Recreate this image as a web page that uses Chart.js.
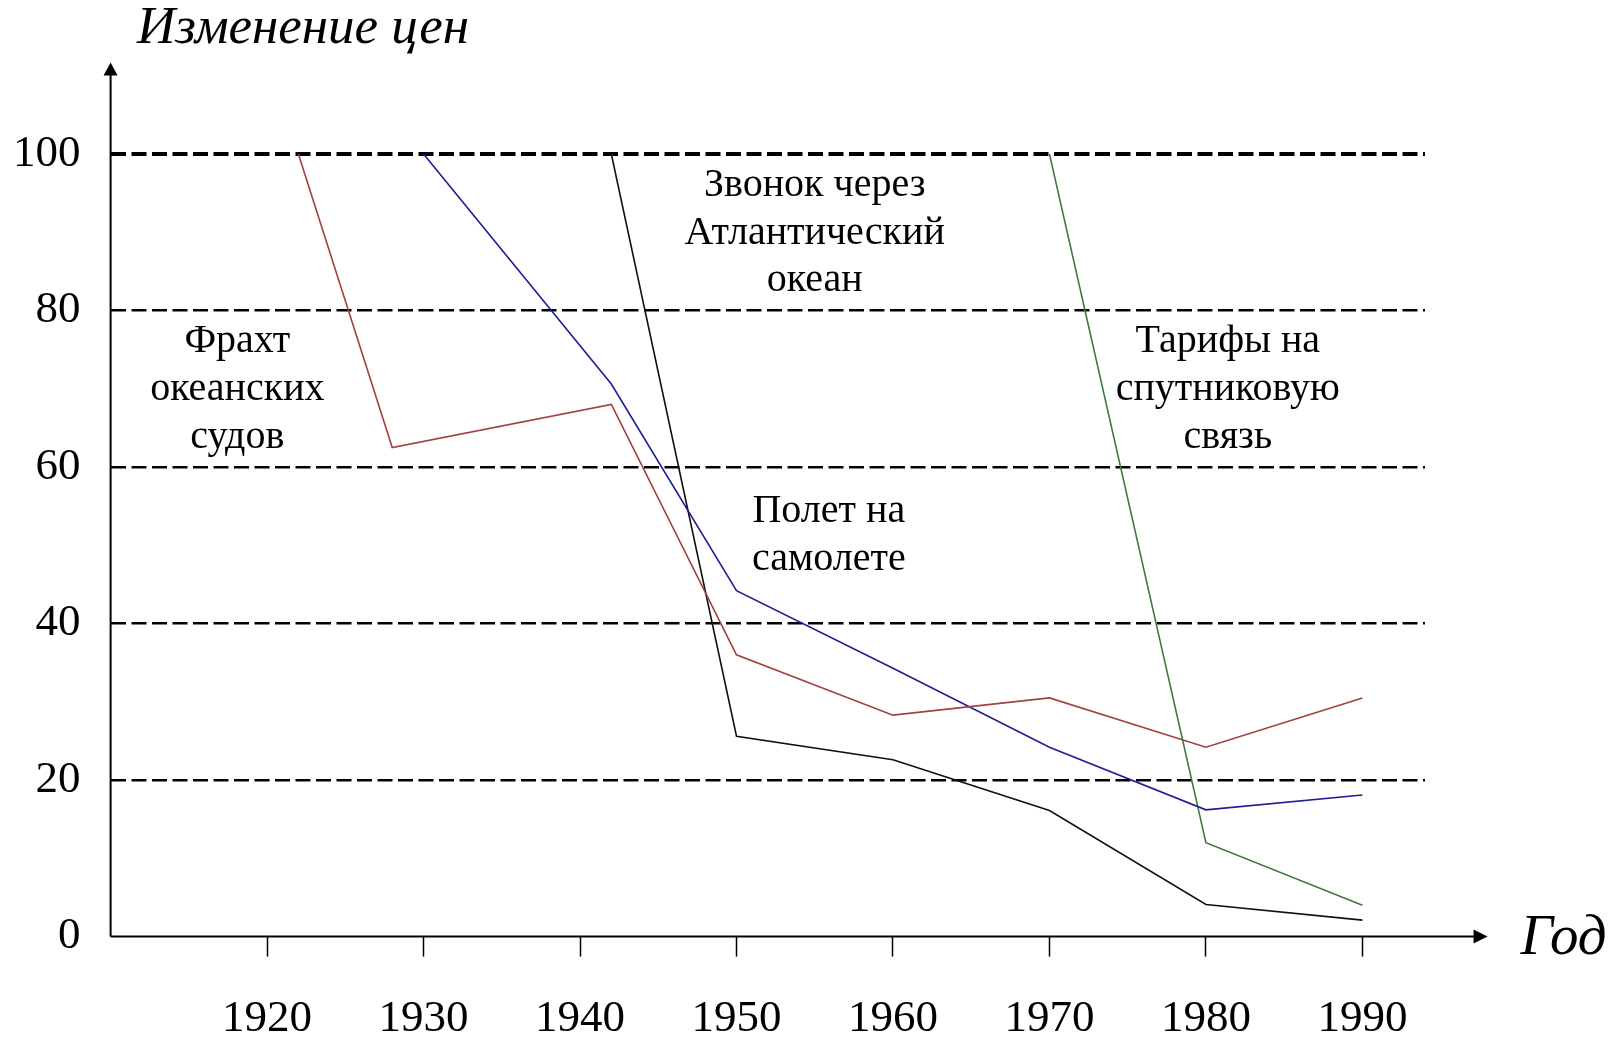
<!DOCTYPE html>
<html>
<head>
<meta charset="utf-8">
<script src="https://cdn.jsdelivr.net/npm/chart.js@4.4.0/dist/chart.umd.min.js"></script>
<style>
  html, body { margin: 0; padding: 0; background: #fff; }
  #wrap { width: 1621px; height: 1037px; }
</style>
</head>
<body>
<div id="wrap"><canvas id="myChart" width="1621" height="1037"></canvas></div>
<script>
const yearTicks = [1920, 1930, 1940, 1950, 1960, 1970, 1980, 1990];
const valueTicks = [0, 20, 40, 60, 80, 100];

const freightYears = [1922, 1928, 1942, 1950, 1960, 1970, 1980, 1990];
const freightValues = [100, 62.5, 68, 36, 28.3, 30.5, 24.2, 30.5];

const flightYears = [1930, 1942, 1950, 1960, 1970, 1980, 1990];
const flightValues = [100, 70.6, 44.2, 34.3, 24.2, 16.2, 18.1];

const callYears = [1942, 1950, 1960, 1970, 1980, 1990];
const callValues = [100, 25.6, 22.6, 16.1, 4.1, 2.1];

const satYears = [1970, 1980, 1990];
const satValues = [100, 12, 4];

const seriesColors = ["#a04242", "#1e1e96", "#111111", "#3f7a3f"];

const notes = [
  { lines: ["Фрахт", "океанских", "судов"], x: 1918.1, y: 76 },
  { lines: ["Звонок через", "Атлантический", "океан"], x: 1955.0, y: 96.0 },
  { lines: ["Полет на", "самолете"], x: 1955.9, y: 54.3 },
  { lines: ["Тарифы на", "спутниковую", "связь"], x: 1981.4, y: 76 },
];

const pts = (xs, ys) => xs.map((x, i) => ({ x: x, y: ys[i] }));

const serif = "'Liberation Serif', 'Times New Roman', serif";

const axesPlugin = {
  id: "axesArrows",
  afterDraw(chart) {
    const ctx = chart.ctx;
    const xs = chart.scales.x;
    const ys = chart.scales.y;
    const x0 = xs.getPixelForValue(1910);
    const y0 = ys.getPixelForValue(0);
    const xEnd = xs.getPixelForValue(1998);
    const yEnd = ys.getPixelForValue(111.7);
    ctx.save();
    ctx.strokeStyle = "#000";
    ctx.fillStyle = "#000";
    ctx.lineWidth = 2;
    ctx.beginPath();
    ctx.moveTo(x0, y0);
    ctx.lineTo(xEnd - 12, y0);
    ctx.moveTo(x0, y0);
    ctx.lineTo(x0, yEnd + 11);
    ctx.stroke();
    // arrowheads
    ctx.beginPath();
    ctx.moveTo(xEnd, y0);
    ctx.lineTo(xEnd - 14, y0 - 7);
    ctx.lineTo(xEnd - 14, y0 + 7);
    ctx.closePath();
    ctx.fill();
    ctx.beginPath();
    ctx.moveTo(x0, yEnd);
    ctx.lineTo(x0 - 7, yEnd + 13);
    ctx.lineTo(x0 + 7, yEnd + 13);
    ctx.closePath();
    ctx.fill();

    // axis titles
    ctx.textBaseline = "middle";
    ctx.textAlign = "left";
    ctx.font = "italic 53px " + serif;
    ctx.fillText("Изменение цен", 137, 29);
    ctx.font = "italic 57px " + serif;
    ctx.fillText("Год", xEnd + 33, y0 + 2);

    // annotations
    ctx.font = "40px " + serif;
    ctx.textAlign = "center";
    notes.forEach((n) => {
      const cx = xs.getPixelForValue(n.x);
      const cy = ys.getPixelForValue(n.y);
      n.lines.forEach((line, i) => {
        ctx.fillText(line, cx, cy + i * 47.7);
      });
    });
    ctx.restore();
  },
};

const ctx = document.getElementById("myChart").getContext("2d");
new Chart(ctx, {
  type: "line",
  data: {
    datasets: [
      { label: "Фрахт океанских судов", data: pts(freightYears, freightValues), borderColor: seriesColors[0] },
      { label: "Полет на самолете", data: pts(flightYears, flightValues), borderColor: seriesColors[1] },
      { label: "Звонок через Атлантический океан", data: pts(callYears, callValues), borderColor: seriesColors[2] },
      { label: "Тарифы на спутниковую связь", data: pts(satYears, satValues), borderColor: seriesColors[3] },
    ],
  },
  options: {
    responsive: false,
    animation: false,
    devicePixelRatio: 1,
    layout: { padding: { left: 0, right: 196, top: 154, bottom: 0 } },
    elements: {
      line: { borderWidth: 1.6, tension: 0, fill: false },
      point: { radius: 0 },
    },
    plugins: {
      legend: { display: false },
      tooltip: { enabled: false },
    },
    scales: {
      x: {
        type: "linear",
        min: 1910,
        max: 1994,
        afterBuildTicks(scale) {
          scale.ticks = yearTicks.map((v) => ({ value: v }));
        },
        afterFit(scale) {
          scale.height = 100.4;
        },
        grid: {
          drawOnChartArea: false,
          drawTicks: true,
          tickLength: 20,
          tickWidth: 1.5,
          tickColor: "#000",
        },
        border: { display: false },
        ticks: {
          color: "#000",
          padding: 36,
          maxRotation: 0,
          autoSkip: false,
          font: { family: serif, size: 45 },
          callback: (v) => String(v),
        },
      },
      y: {
        min: 0,
        max: 100,
        afterBuildTicks(scale) {
          scale.ticks = valueTicks.map((v) => ({ value: v }));
        },
        afterFit(scale) {
          scale.width = 110.6;
        },
        grid: {
          drawTicks: false,
          color: (c) => (c.tick && c.tick.value === 0 ? "rgba(0,0,0,0)" : "#000"),
          lineWidth: (c) => (c.tick && c.tick.value === 100 ? 4 : 2.5),
        },
        border: { display: false, dash: [15, 5.5] },
        ticks: {
          color: "#000",
          padding: 30,
          font: { family: serif, size: 45 },
        },
      },
    },
  },
  plugins: [axesPlugin],
});
</script>
</body>
</html>
